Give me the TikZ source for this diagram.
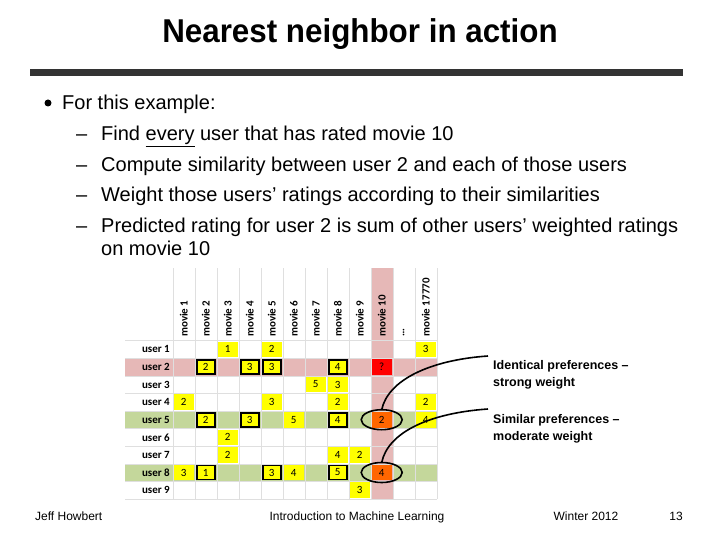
\documentclass[tikz,border=0pt]{standalone}
\usepackage{fontspec}
\setmainfont{Liberation Sans}
\newfontfamily\tabfont{Carlito}
\usetikzlibrary{calc}
\definecolor{pinkbg}{RGB}{230,184,183}
\definecolor{greenbg}{RGB}{196,215,155}
\definecolor{ylw}{RGB}{255,255,0}
\definecolor{orng}{RGB}{255,102,0}
\begin{document}
\begin{tikzpicture}[x=1pt,y=-1pt,
  body/.style={anchor=base west,inner sep=0,font=\fontsize{20}{22}\selectfont},
  foot/.style={anchor=base,inner sep=0,font=\fontsize{12}{14}\selectfont},
  cell/.style={minimum width=20pt,minimum height=15.6pt,inner sep=0,font=\tabfont\fontsize{11}{12}\selectfont},
  ylc/.style={cell,fill=ylw},
  boxc/.style={cell,fill=ylw,draw=black,line width=1.6pt,minimum width=18pt,minimum height=14pt},
  lbl/.style={anchor=east,inner sep=0,font=\tabfont\bfseries\fontsize{11}{12}\selectfont},
  note/.style={anchor=north west,inner sep=0,align=left,font=\bfseries\fontsize{12.5}{17}\selectfont}]
\useasboundingbox (0,0) rectangle (720,540);
\node[anchor=base,font=\bfseries\fontsize{33}{36}\selectfont,inner sep=0,xscale=0.95] (title) at (360,43) {Nearest neighbor in action};
\fill[black!80] (30,69) rectangle (683,76);
\fill (48,103) circle (3.5);
\node[body] (b0) at (62,110) {For this example:};
\foreach \y/\t [count=\i] in {141/{Find \underline{every} user that has rated movie 10},172/{Compute similarity between user 2 and each of those users},202/{Weight those users’ ratings according to their similarities},233/{Predicted rating for user 2 is sum of other users’ weighted ratings}}{
  \node[body] (d\i) at (76,\y) {–};
  \node[body] (t\i) at (101,\y) {\t};}
\node[body] (t5) at (101,255) {on movie 10};
% backgrounds
\def\xa{172.7}\def\cw{22}\def\ya{340.5}\def\rh{17.6}
\fill[pinkbg] (125,{\ya+\rh}) rectangle (436.7,{\ya+2*\rh});
\fill[greenbg] (125,{\ya+4*\rh}) rectangle (436.7,{\ya+5*\rh});
\fill[greenbg] (125,{\ya+7*\rh}) rectangle (436.7,{\ya+8*\rh});
\fill[pinkbg] ({\xa+9*\cw},268) rectangle ({\xa+10*\cw},{\ya+9*\rh});
\foreach \j in {0,...,9}{\draw[gray!25] (125,{\ya+\j*\rh}) -- (436.7,{\ya+\j*\rh});}
\foreach \i in {0,...,12}{\draw[gray!25] ({\xa+\i*\cw},268) -- ({\xa+\i*\cw},{\ya+9*\rh});}
% headers
\foreach \t [count=\i] in {movie 1,movie 2,movie 3,movie 4,movie 5,movie 6,movie 7,movie 8,movie 9,movie 10,\dots,movie 17770}{
  \node[rotate=90,anchor=west,inner sep=1pt,font=\tabfont\bfseries\fontsize{11}{12}\selectfont] (h\i) at ({\xa+(\i-0.5)*\cw},338) {\t};}
\foreach \j in {1,...,9}{\node[lbl] (u\j) at (170,{\ya+(\j-0.5)*\rh}) {user \j};}
% cells
\foreach \c/\r/\v/\s in {3/1/1/ylc,5/1/2/ylc,12/1/3/ylc,
  2/2/2/boxc,4/2/3/boxc,5/2/3/boxc,8/2/4/boxc,
  7/3/5/ylc,8/3/3/ylc,
  1/4/2/ylc,5/4/3/ylc,8/4/2/ylc,12/4/2/ylc,
  2/5/2/boxc,4/5/3/boxc,6/5/5/ylc,8/5/4/boxc,12/5/4/ylc,
  3/6/2/ylc,
  3/7/2/ylc,8/7/4/ylc,9/7/2/ylc,
  1/8/3/ylc,2/8/1/boxc,5/8/3/boxc,6/8/4/ylc,8/8/5/boxc,
  9/9/3/ylc}{
  \node[\s] (c\c-\r) at ({\xa+(\c-0.5)*\cw},{\ya+(\r-0.5)*\rh}) {\v};}
\node[cell,fill=red] (q) at ({\xa+9.5*\cw},{\ya+1.5*\rh}) {?};
\node[cell,fill=orng] (o5) at ({\xa+9.5*\cw},{\ya+4.5*\rh}) {2};
\node[cell,fill=orng] (o8) at ({\xa+9.5*\cw},{\ya+7.5*\rh}) {4};
\draw[line width=1.6pt] (o5) ellipse (20.5 and 10);
\draw[line width=1.6pt] (o8) ellipse (20.5 and 10);
\node[note] (n1) at (493,360) {Identical preferences –\\strong weight};
\node[note] (n2) at (493,414) {Similar preferences –\\moderate weight};
\coordinate (e1) at ($(o5)+(0,-10)$);
\coordinate (e2) at ($(o8)+(0,-10)$);
\draw[line width=1.6pt] (e1) .. controls (388,380) and (430,360) .. (488,356);
\draw[line width=1.6pt] (e2) .. controls (388,432) and (430,413) .. (488,409);
% footer
\node[foot,anchor=base west] (f1) at (35,520) {Jeff Howbert};
\node[foot] (f2) at (357,520) {Introduction to Machine Learning};
\node[foot] (f3) at (586,520) {Winter 2012};
\node[foot] (f4) at (676,520) {13};
\end{tikzpicture}
\end{document}
